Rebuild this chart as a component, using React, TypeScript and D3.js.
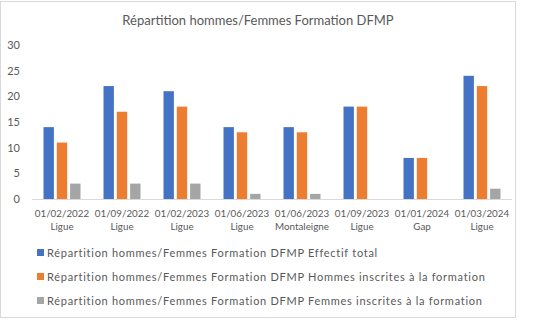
import React from "react";
import * as d3 from "d3";

const categories = [
  ["01/02/2022", "Ligue"],
  ["01/09/2022", "Ligue"],
  ["01/02/2023", "Ligue"],
  ["01/06/2023", "Ligue"],
  ["01/06/2023", "Montaleigne"],
  ["01/09/2023", "Ligue"],
  ["01/01/2024", "Gap"],
  ["01/03/2024", "Ligue"],
];
const effectifTotal = [14, 22, 21, 14, 14, 18, 8, 24];
const hommes = [11, 17, 18, 13, 13, 18, 8, 22];
const femmes = [3, 3, 3, 1, 1, 0, 0, 2];
const seriesNames = [
  "Répartition hommes/Femmes Formation DFMP Effectif total",
  "Répartition hommes/Femmes Formation DFMP Hommes inscrites à la formation",
  "Répartition hommes/Femmes Formation DFMP Femmes inscrites à la formation",
];
const yTicks = [0, 5, 10, 15, 20, 25, 30];
const title = "Répartition hommes/Femmes Formation DFMP";

const colors = ["#4472C4", "#ED7D31", "#A5A5A5"];
const FONT = "Lato, 'Open Sans', sans-serif";
const TXT = "#595959";

export default function App() {
  const W = 533, H = 324;
  const left = 32, right = 512, top = 45, bottom = 199;
  const series = [effectifTotal, hommes, femmes];
  const idx = categories.map((_, i) => String(i));
  const x = d3.scaleBand().domain(idx).range([left, right]).paddingInner(0).paddingOuter(0);
  const x1 = d3.scaleBand().domain(["0", "1", "2"]).range([11.5, x.bandwidth() - 11.5]).paddingInner(0.22);
  const y = d3.scaleLinear().domain([0, 30]).range([bottom, top]);

  return (
    <svg width={W} height={H} style={{ position: "absolute", left: 0, top: 0 }} fontFamily={FONT}>
      <rect x={0} y={0} width={W} height={H} fill="#fff" />
      <rect x={0.5} y={1.5} width={515} height={316} fill="#fff" stroke="#D9D9D9" />
      <text x={258} y={25} textAnchor="middle" fontSize={13} fill={TXT}>{title}</text>
      {yTicks.map((t) => (
        <text key={t} x={20} y={y(t) + 4} textAnchor="end" fontSize={11} fill={TXT}>{t}</text>
      ))}
      {series.map((s, si) =>
        s.map((v, i) => (
          <rect
            key={`${si}-${i}`}
            x={(x(String(i)) as number) + (x1(String(si)) as number)}
            y={y(v)}
            width={x1.bandwidth()}
            height={bottom - y(v)}
            fill={colors[si]}
          />
        ))
      )}
      <line x1={left} x2={right} y1={bottom + 0.5} y2={bottom + 0.5} stroke="#D9D9D9" />
      {categories.map((c, i) => {
        const cx = (x(String(i)) as number) + x.bandwidth() / 2;
        return (
          <g key={i}>
            <text x={cx} y={217} textAnchor="middle" fontSize={9.8} fill={TXT}>{c[0]}</text>
            <text x={cx} y={230} textAnchor="middle" fontSize={9.8} fill={TXT}>{c[1]}</text>
          </g>
        );
      })}
      {seriesNames.map((n, i) => (
        <g key={n}>
          <rect x={37} y={249 + i * 24} width={7} height={7} fill={colors[i]} />
          <text x={47} y={257 + i * 24} fontSize={11} letterSpacing={0.72} fill={TXT}>{n}</text>
        </g>
      ))}
    </svg>
  );
}
